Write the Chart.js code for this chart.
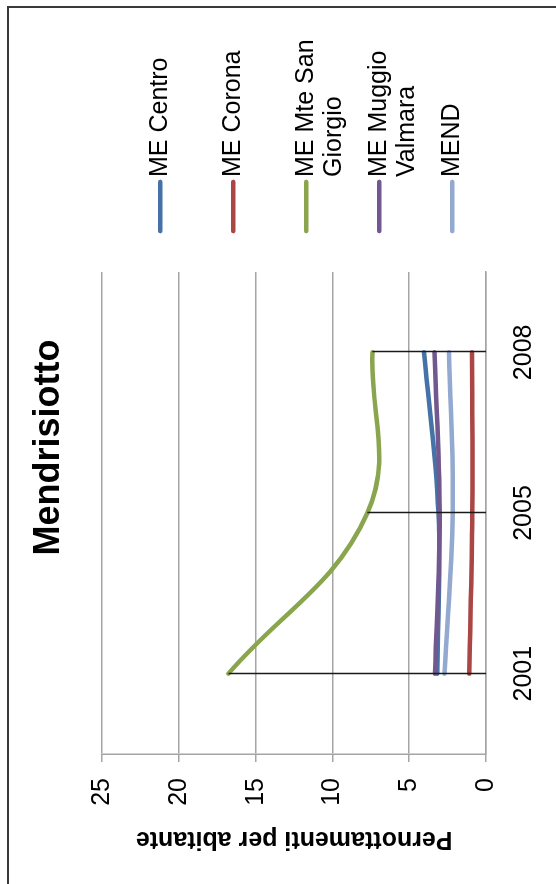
<!DOCTYPE html>
<html>
<head>
<meta charset="utf-8">
<script src="https://cdn.jsdelivr.net/npm/chart.js@4/dist/chart.umd.min.js"></script>
<style>
  html, body { margin: 0; padding: 0; background: #fff; overflow: hidden; }
  /* chart is drawn landscape and then turned a quarter turn, like the scan */
  #wrap {
    position: absolute; left: 0; top: 0;
    width: 884px; height: 556px;
    transform-origin: 0 0;
    transform: translate(0, 884px) rotate(-90deg);
  }
  #frame {
    position: absolute; left: 0; top: 7px;
    width: 876px; height: 620px;
    border-top: 2px solid #3a3a3a;
    border-right: 2px solid #3a3a3a;
  }
  #chart { position: absolute; left: 0; top: 0; }
</style>
</head>
<body>
<div id="wrap">
  <div id="frame"></div>
  <canvas id="chart" width="884" height="556"></canvas>
</div>
<script>
// dati
const years = ['2001', '2005', '2008'];
const seriesNames = ['ME Centro', 'ME Corona', 'ME Mte San Giorgio', 'ME Muggio Valmara', 'MEND'];
const legendLines = [['ME Centro'], ['ME Corona'], ['ME Mte San', 'Giorgio'], ['ME Muggio', 'Valmara'], ['MEND']];
const centro = [3.17, 3.10, 4.04];
const corona = [1.09, 0.89, 0.91];
const mteSanGiorgio = [16.78, 7.73, 7.40];
const muggioValmara = [3.32, 3.02, 3.36];
const mend = [2.71, 2.17, 2.41];
const colors = ['#4572A7', '#AA4643', '#89A54E', '#71588F', '#93A9CF'];

const allSeries = [centro, corona, mteSanGiorgio, muggioValmara, mend];

Chart.defaults.font.family = "'Liberation Sans', Arial, sans-serif";
Chart.defaults.color = '#000';

// linee verticali (drop lines) dal valore massimo fino all'asse
const dropLines = {
    id: 'dropLines',
    afterDatasetsDraw(chart) {
        const { ctx, scales: { x, y } } = chart;
        ctx.save();
        ctx.strokeStyle = '#1a1a1a';
        ctx.lineWidth = 1.5;
        years.forEach((yr, i) => {
            const top = Math.max(...allSeries.map(s => s[i]));
            const px = Math.round(x.getPixelForValue(i)) + 0.5;
            ctx.beginPath();
            ctx.moveTo(px, y.getPixelForValue(top));
            ctx.lineTo(px, y.getPixelForValue(0));
            ctx.stroke();
        });
        ctx.restore();
    }
};

// legenda a destra, voci su due righe come in Excel
const sideLegend = {
    id: 'sideLegend',
    afterDraw(chart) {
        const { ctx, chartArea } = chart;
        ctx.save();
        ctx.font = "25px 'Liberation Sans', Arial, sans-serif";
        ctx.textBaseline = 'middle';
        ctx.textAlign = 'left';
        ctx.lineCap = 'round';
        chart.data.datasets.forEach((ds, i) => {
            const yy = chartArea.top + 58 + i * 73;
            ctx.strokeStyle = ds.borderColor;
            ctx.lineWidth = 4.5;
            ctx.beginPath();
            ctx.moveTo(chartArea.right + 41, yy);
            ctx.lineTo(chartArea.right + 90, yy);
            ctx.stroke();
            ctx.fillStyle = '#000';
            legendLines[i].forEach((t, k) => ctx.fillText(t, chartArea.right + 95, yy + k * 28));
        });
        ctx.restore();
    }
};

new Chart(document.getElementById('chart'), {
    type: 'line',
    data: {
        labels: years,
        datasets: allSeries.map((s, i) => ({
            label: seriesNames[i],
            data: s,
            yAxisID: 'y',
            borderColor: colors[i],
            backgroundColor: colors[i],
            borderWidth: 4.5,
            borderCapStyle: 'round',
            borderJoinStyle: 'round',
            pointRadius: 0,
            tension: 0.4,
            order: allSeries.length - 1 - i
        }))
    },
    options: {
        responsive: false,
        animation: false,
        devicePixelRatio: 1,
        events: [],
        layout: { padding: { left: 0, right: 11, top: 0, bottom: 17 } },
        plugins: {
            legend: { display: false },
            tooltip: { enabled: false },
            title: {
                display: true,
                text: 'Mendrisiotto',
                font: { size: 36, weight: 'bold' },
                color: '#000',
                padding: { top: 27, bottom: 32 }
            }
        },
        scales: {
            x: {
                offset: true,
                grid: { display: false, drawTicks: false },
                border: { display: true, color: '#a5a5a5', width: 1.5 },
                ticks: { font: { size: 25 }, color: '#000', padding: 23 },
                afterFit(s) { s.height = 53; }
            },
            y: {
                min: 0, max: 25,
                grid: { color: '#a5a5a5', lineWidth: 1.5, tickLength: 8 },
                border: { display: true, color: '#a5a5a5', width: 1.5 },
                ticks: { stepSize: 5, font: { size: 25 }, color: '#000', padding: 16 },
                title: {
                    display: true,
                    text: 'Pernottamenti per abitante',
                    font: { size: 25, weight: 'bold' },
                    color: '#000',
                    padding: { top: 30, bottom: 18 }
                },
                afterFit(s) { s.width = 130; }
            },
            // spazio vuoto riservato alla legenda
            legendSpace: {
                type: 'linear',
                position: 'right',
                display: true,
                ticks: { display: false },
                grid: { display: false, drawTicks: false },
                border: { display: false },
                afterFit(s) { s.width = 261; }
            }
        }
    },
    plugins: [dropLines, sideLegend]
});
</script>
</body>
</html>
